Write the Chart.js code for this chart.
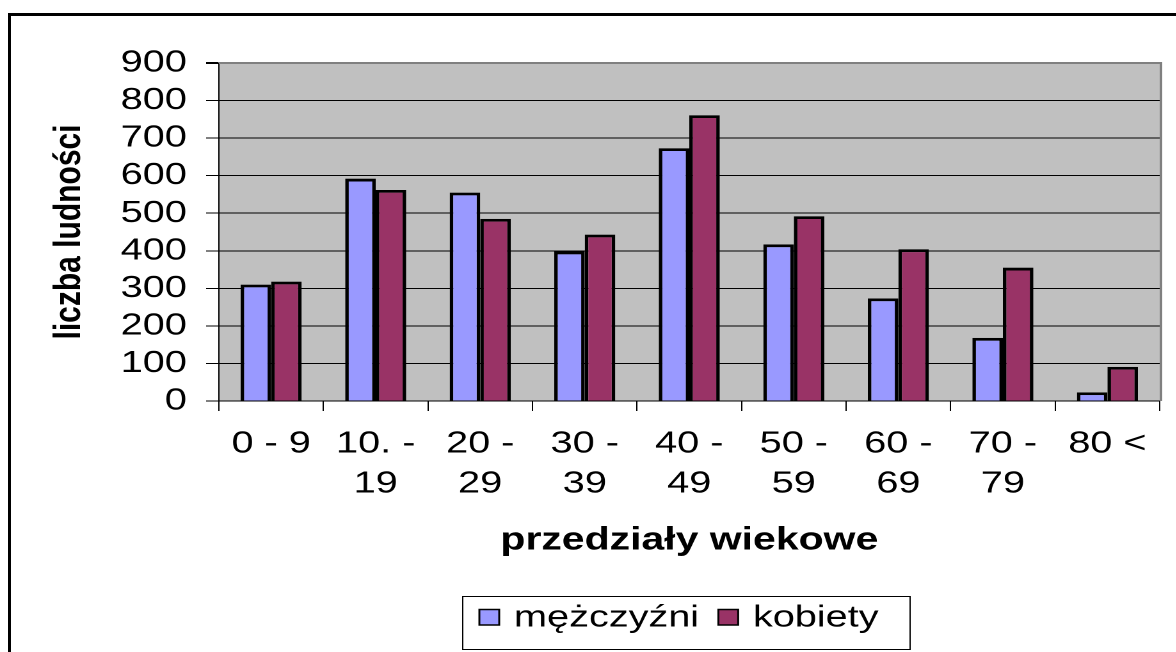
<!DOCTYPE html>
<html>
<head>
<meta charset="utf-8">
<title>Przedziały wiekowe</title>
<script src="https://cdn.jsdelivr.net/npm/chart.js@4.4.1/dist/chart.umd.min.js"></script>
<style>
    html, body { margin: 0; padding: 0; background: #fff; overflow: hidden; }
    #frame {
        position: absolute; left: 8px; top: 13px; width: 1300px; height: 800px;
        border-left: 3px solid #000; border-top: 3px solid #000;
    }
    /* the original picture is stretched horizontally, so draw narrower and widen */
    #wrap {
        position: absolute; left: 0; top: 0; width: 919px; height: 652px;
        transform: scaleX(1.28); transform-origin: 0 0;
    }
</style>
</head>
<body>
<div id="frame"></div>
<div id="wrap"><canvas id="ageChart"></canvas></div>
<script>
// Data
const categories = [['0 - 9'], ['10. -', '19'], ['20 -', '29'], ['30 -', '39'], ['40 -', '49'],
    ['50 -', '59'], ['60 -', '69'], ['70 -', '79'], ['80 <']];
const menValues = [310, 592, 555, 398, 673, 417, 273, 168, 23];
const womenValues = [318, 562, 485, 443, 761, 492, 404, 355, 91];
const seriesNames = ['mężczyźni', 'kobiety'];
const yMin = 0;
const yMax = 900;
const yStep = 100;

const FONT = '"Liberation Sans", Arial, sans-serif';
Chart.defaults.font.family = FONT;
Chart.defaults.color = '#000';

// Gray plot background plus the gray top/right edge
const plotArea = {
    id: 'plotArea',
    beforeDraw(chart) {
        const { ctx, chartArea: a } = chart;
        ctx.save();
        ctx.fillStyle = '#c0c0c0';
        ctx.fillRect(a.left, a.top, a.right - a.left, a.bottom - a.top);
        ctx.restore();
    },
    afterDatasetsDraw(chart) {
        const { ctx, chartArea: a } = chart;
        ctx.save();
        ctx.strokeStyle = '#808080';
        ctx.lineWidth = 2;
        ctx.beginPath();
        ctx.moveTo(a.left, a.top);
        ctx.lineTo(a.right + 1, a.top);
        ctx.lineTo(a.right + 1, a.bottom);
        ctx.stroke();
        ctx.restore();
    }
};

// Boxed legend under the axis title
const legendBox = {
    id: 'legendBox',
    afterDraw(chart) {
        const ctx = chart.ctx;
        ctx.save();
        ctx.strokeStyle = '#000';
        ctx.lineWidth = 1;
        ctx.strokeRect(361.5, 596.5, 349.5, 53);
        ctx.font = '31px ' + FONT;
        ctx.textBaseline = 'alphabetic';
        let x = 374.5;
        chart.data.datasets.forEach(ds => {
            ctx.fillStyle = ds.backgroundColor;
            ctx.fillRect(x, 609.5, 15.5, 15.5);
            ctx.lineWidth = 1.5;
            ctx.strokeRect(x, 609.5, 15.5, 15.5);
            ctx.fillStyle = '#000';
            ctx.fillText(ds.label, x + 27, 626.5);
            x += 27 + ctx.measureText(ds.label).width + 15;
        });
        ctx.restore();
    }
};

new Chart(document.getElementById('ageChart').getContext('2d'), {
    type: 'bar',
    data: {
        labels: categories,
        datasets: [{
            label: seriesNames[0],
            data: menValues,
            backgroundColor: '#9999ff',
            borderColor: '#000',
            borderWidth: 2.8,
            categoryPercentage: 0.584,
            barPercentage: 1
        }, {
            label: seriesNames[1],
            data: womenValues,
            backgroundColor: '#993366',
            borderColor: '#000',
            borderWidth: 2.8,
            categoryPercentage: 0.584,
            barPercentage: 1
        }]
    },
    options: {
        responsive: true,
        maintainAspectRatio: false,
        animation: false,
        devicePixelRatio: 2,
        layout: { padding: { top: 63, right: 13, bottom: 72, left: 0 } },
        plugins: {
            legend: { display: false },
            tooltip: { enabled: false }
        },
        scales: {
            x: {
                grid: { drawOnChartArea: false, drawTicks: true, tickLength: 10, tickColor: '#000', offset: true },
                border: { display: true, color: '#000', width: 1 },
                ticks: { color: '#000', font: { size: 31, lineHeight: 1.29 }, padding: 13, maxRotation: 0, autoSkip: false },
                title: {
                    display: true, text: 'przedziały wiekowe', color: '#000',
                    font: { size: 32, weight: 'bold' }, padding: { top: 0, bottom: 20 }
                },
                afterFit(scale) { scale.height = 179; }
            },
            y: {
                min: yMin,
                max: yMax,
                ticks: { stepSize: yStep, color: '#000', font: { size: 31 }, padding: 15, autoSkip: false },
                grid: {
                    color: c => (c.tick && c.tick.value === yMax) ? '#808080' : '#000',
                    lineWidth: c => (c.tick && c.tick.value === yMax) ? 2 : 1,
                    tickLength: 10,
                    tickColor: '#000'
                },
                border: { display: true, color: '#000', width: 1 },
                title: {
                    display: true, text: 'liczba ludności', color: '#000',
                    font: { size: 30, weight: 'bold' }, padding: { top: 36, bottom: 0 }
                },
                afterFit(scale) { scale.width = 171; }
            }
        }
    },
    plugins: [plotArea, legendBox]
});
</script>
</body>
</html>
